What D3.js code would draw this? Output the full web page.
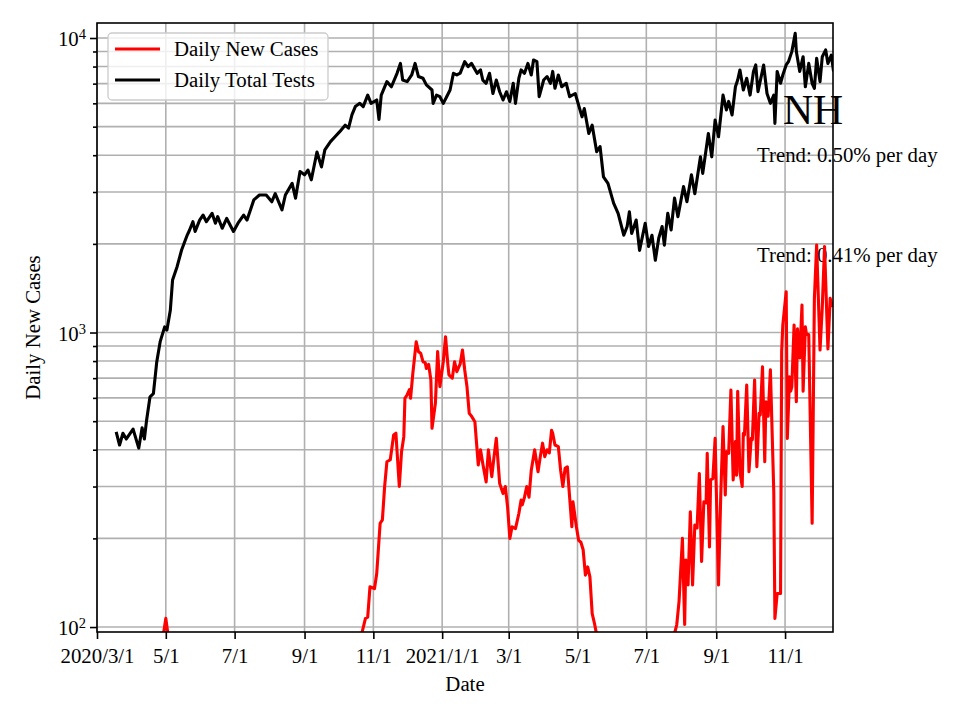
<!DOCTYPE html>
<html>
<head>
<meta charset="utf-8">
<script src="https://cdn.jsdelivr.net/npm/d3@7"></script>
<style>
  body { margin: 0; background: #fff; }
  svg { font-family: "Liberation Serif", "Times New Roman", serif; }
</style>
</head>
<body>
<div id="chart"></div>
<script>

// daily total tests (peaks and troughs)
var testDates = [
  "2020-03-18","2020-03-21","2020-03-24","2020-03-27","2020-04-02","2020-04-07","2020-04-10","2020-04-12",
  "2020-04-14","2020-04-17","2020-04-20","2020-04-23","2020-04-26","2020-04-30","2020-05-02","2020-05-05",
  "2020-05-07","2020-05-11","2020-05-15","2020-05-20","2020-05-22","2020-05-25","2020-05-27","2020-05-31",
  "2020-06-03","2020-06-06","2020-06-11","2020-06-14","2020-06-16","2020-06-20","2020-06-24","2020-06-30",
  "2020-07-04","2020-07-09","2020-07-12","2020-07-18","2020-07-23","2020-07-29","2020-08-03","2020-08-06",
  "2020-08-12","2020-08-15","2020-08-21","2020-08-24","2020-08-28","2020-09-01","2020-09-04","2020-09-07",
  "2020-09-12","2020-09-16","2020-09-19","2020-09-24","2020-09-28","2020-10-02","2020-10-07","2020-10-10",
  "2020-10-13","2020-10-16","2020-10-20","2020-10-23","2020-10-27","2020-10-30","2020-11-04","2020-11-06",
  "2020-11-08","2020-11-13","2020-11-17","2020-11-22","2020-11-25","2020-11-27","2020-12-01","2020-12-05",
  "2020-12-08","2020-12-11","2020-12-15","2020-12-18","2020-12-23","2020-12-24","2020-12-27","2020-12-30",
  "2021-01-02","2021-01-05","2021-01-08","2021-01-11","2021-01-14","2021-01-17","2021-01-21","2021-01-24",
  "2021-01-27","2021-02-01","2021-02-04","2021-02-06","2021-02-09","2021-02-12","2021-02-15","2021-02-18",
  "2021-02-21","2021-02-24","2021-02-27","2021-03-02","2021-03-05","2021-03-07","2021-03-10","2021-03-12",
  "2021-03-15","2021-03-18","2021-03-21","2021-03-23","2021-03-26","2021-03-28","2021-04-01","2021-04-04",
  "2021-04-07","2021-04-09","2021-04-11","2021-04-14","2021-04-17","2021-04-21","2021-04-24","2021-04-29",
  "2021-05-01","2021-05-05","2021-05-07","2021-05-11","2021-05-14","2021-05-18","2021-05-21","2021-05-24",
  "2021-05-28","2021-06-02","2021-06-06","2021-06-11","2021-06-14","2021-06-16","2021-06-18","2021-06-22",
  "2021-06-25","2021-06-30","2021-07-03","2021-07-06","2021-07-09","2021-07-12","2021-07-15","2021-07-17",
  "2021-07-20","2021-07-23","2021-07-26","2021-07-29","2021-08-03","2021-08-06","2021-08-10","2021-08-13",
  "2021-08-18","2021-08-20","2021-08-25","2021-08-28","2021-08-31","2021-09-03","2021-09-07","2021-09-10",
  "2021-09-12","2021-09-15","2021-09-18","2021-09-20","2021-09-22","2021-09-25","2021-09-28","2021-10-01",
  "2021-10-04","2021-10-06","2021-10-08","2021-10-13","2021-10-16","2021-10-19","2021-10-22","2021-10-23",
  "2021-10-25","2021-10-28","2021-10-30","2021-11-02","2021-11-04","2021-11-07","2021-11-10","2021-11-11",
  "2021-11-14","2021-11-17","2021-11-19","2021-11-22","2021-11-25","2021-11-27","2021-11-29","2021-12-02",
  "2021-12-04","2021-12-07","2021-12-09","2021-12-12","2021-12-14"
];
var testValues = [
  460,415,455,435,470,405,475,435,
  505,605,620,796,931,1045,1020,1190,
  1508,1673,1906,2143,2225,2378,2204,2408,
  2505,2378,2540,2350,2475,2260,2440,2204,
  2350,2505,2410,2820,2930,2930,2780,2960,
  2610,2930,3210,2860,3520,3430,3560,3300,
  4100,3650,4170,4450,4620,4800,5060,4940,
  5480,5850,6000,5850,6400,6000,6160,5290,
  6400,7110,6830,7590,8200,7200,7110,7490,
  8200,7400,7300,6930,6660,6000,6400,6320,
  6000,6320,6660,7590,7490,7600,8310,7990,
  8200,7590,7790,7200,7020,7590,6480,7200,
  6570,6160,6570,6090,7020,6000,7300,7790,
  7590,8200,7490,8420,8310,6320,7200,7400,
  7020,7700,6750,7490,6830,7020,6320,6480,
  6090,5400,5760,4740,5060,4110,4280,3380,
  3210,2750,2540,2140,2290,2570,2170,2410,
  1900,2350,1960,2140,1760,2090,2290,1980,
  2540,2230,2860,2475,3130,2780,3430,2960,
  3950,3470,4740,3950,5270,4620,6400,5700,
  6090,5480,6830,7200,7790,6660,7300,6400,
  7700,8100,6570,8100,6480,6000,6400,5130,
  7700,7020,7490,8100,8310,8990,10370,9000,
  7700,8640,6830,8200,7020,6750,8530,7110,
  8640,9110,8200,8750,7700
];

// daily new cases (values under 100 fall below the axis and are clipped)
var caseDates = [
  "2020-03-18","2020-03-25","2020-04-04","2020-04-15","2020-04-27","2020-04-29","2020-05-01","2020-05-03",
  "2020-05-05","2020-05-20","2020-06-05","2020-06-25","2020-07-15","2020-08-10","2020-09-01","2020-09-20",
  "2020-10-05","2020-10-15","2020-10-22","2020-10-25","2020-10-27","2020-10-29","2020-11-02","2020-11-04",
  "2020-11-07","2020-11-09","2020-11-11","2020-11-13","2020-11-16","2020-11-19","2020-11-21","2020-11-24",
  "2020-11-26","2020-11-28","2020-11-29","2020-12-01","2020-12-03","2020-12-04","2020-12-06","2020-12-09",
  "2020-12-11","2020-12-13","2020-12-15","2020-12-17","2020-12-18","2020-12-20","2020-12-22","2020-12-23",
  "2020-12-26","2020-12-28","2020-12-30","2021-01-02","2021-01-04","2021-01-06","2021-01-07","2021-01-10",
  "2021-01-12","2021-01-14","2021-01-17","2021-01-19","2021-01-21","2021-01-23","2021-01-25","2021-01-27",
  "2021-01-30","2021-02-02","2021-02-04","2021-02-06","2021-02-09","2021-02-11","2021-02-14","2021-02-16",
  "2021-02-18","2021-02-21","2021-02-24","2021-02-26","2021-02-28","2021-03-02","2021-03-04","2021-03-07",
  "2021-03-10","2021-03-12","2021-03-13","2021-03-15","2021-03-17","2021-03-19","2021-03-21","2021-03-24",
  "2021-03-27","2021-03-29","2021-03-31","2021-04-02","2021-04-04","2021-04-06","2021-04-08","2021-04-09",
  "2021-04-11","2021-04-14","2021-04-16","2021-04-18","2021-04-20","2021-04-22","2021-04-24","2021-04-26",
  "2021-04-27","2021-04-30","2021-05-02","2021-05-04","2021-05-06","2021-05-08","2021-05-10","2021-05-12",
  "2021-05-14","2021-05-16","2021-05-19","2021-05-25","2021-06-05","2021-06-20","2021-07-05","2021-07-15",
  "2021-07-22","2021-07-26","2021-07-28","2021-07-30","2021-08-02","2021-08-04","2021-08-05","2021-08-07",
  "2021-08-09","2021-08-11","2021-08-13","2021-08-15","2021-08-17","2021-08-19","2021-08-21","2021-08-23",
  "2021-08-24","2021-08-26","2021-08-27","2021-08-29","2021-08-31","2021-09-03","2021-09-05","2021-09-07",
  "2021-09-09","2021-09-10","2021-09-12","2021-09-14","2021-09-16","2021-09-18","2021-09-19","2021-09-20",
  "2021-09-22","2021-09-24","2021-09-25","2021-09-26","2021-09-28","2021-09-30","2021-10-02","2021-10-03",
  "2021-10-05","2021-10-07","2021-10-09","2021-10-10","2021-10-12","2021-10-14","2021-10-15","2021-10-17",
  "2021-10-19","2021-10-22","2021-10-23","2021-10-25","2021-10-28","2021-10-29","2021-10-30","2021-11-02",
  "2021-11-03","2021-11-05","2021-11-06","2021-11-07","2021-11-09","2021-11-11","2021-11-12","2021-11-14",
  "2021-11-16","2021-11-17","2021-11-19","2021-11-20","2021-11-22","2021-11-25","2021-11-27","2021-11-29",
  "2021-12-02","2021-12-04","2021-12-06","2021-12-09","2021-12-11","2021-12-13"
];
var caseValues = [
  8,25,55,75,85,95,107,94,
  70,60,35,20,25,20,20,40,
  60,75,96,107,108,137,135,152,
  225,231,300,364,370,449,455,300,
  394,443,598,615,640,598,727,930,
  861,850,796,790,755,780,690,473,
  575,861,655,796,968,783,718,700,
  796,736,783,872,746,655,532,520,
  498,355,400,359,311,400,324,379,
  437,307,284,300,256,200,219,216,
  243,270,260,276,300,276,341,400,
  337,379,421,379,400,390,466,455,
  415,410,341,300,346,350,276,219,
  266,219,197,194,183,150,160,148,
  111,103,90,70,50,30,25,50,
  80,95,102,122,200,102,169,139,
  246,139,222,217,332,167,266,264,
  389,187,316,319,437,139,281,479,
  281,394,389,638,316,426,328,632,
  337,300,455,449,663,337,437,433,
  690,350,532,525,765,364,582,520,
  747,288,107,130,130,861,1060,1376,
  437,708,632,655,1060,582,1030,820,
  1240,632,1045,985,985,225,1306,1982,
  872,1220,1960,880,1306,1220
];

var xTickDates = ["2020-03-01","2020-05-01","2020-07-01","2020-09-01","2020-11-01","2021-01-01",
                  "2021-03-01","2021-05-01","2021-07-01","2021-09-01","2021-11-01"];
var xTickLabels = ["2020/3/1","5/1","7/1","9/1","11/1","2021/1/1","3/1","5/1","7/1","9/1","11/1"];
var yMajorTicks = [100, 1000, 10000];
var yMajorExp = ["2", "3", "4"];
var yMinorTicks = [200, 300, 400, 500, 600, 700, 800, 900, 2000, 3000, 4000, 5000, 6000, 7000, 8000, 9000];

var seriesNames = ["Daily New Cases", "Daily Total Tests"];
var seriesColors = ["#ff0000", "#000000"];
var stateName = "NH";
var trendLabels = ["Trend: 0.50% per day", "Trend: 0.41% per day"];

function drawChart() {

var svg = d3.select("#chart").append("svg")
      .attr("width", 960)
      .attr("height", 720),
    margin = {top: 23, right: 127, bottom: 88, left: 97},
    width = 960 - margin.left - margin.right,
    height = 720 - margin.top - margin.bottom,
    g = svg.append("g").attr("transform", "translate(" + margin.left + "," + margin.top + ")");

var parse = d3.utcParse("%Y-%m-%d");
var fs = 20.8; // 10pt at 150 dpi

var x = d3.scaleUtc()
    .domain([parse("2020-03-01"), d3.utcHour.offset(parse("2021-12-13"), 12)])
    .range([0, width]);

var y = d3.scaleLog()
    .domain([96.2, 11245])
    .range([height, 0]);

var tests = testDates.map(function(d, i) { return {date: parse(d), value: testValues[i]}; });
var cases = caseDates.map(function(d, i) { return {date: parse(d), value: caseValues[i]}; });

svg.append("defs").append("clipPath")
    .attr("id", "plot-clip")
  .append("rect")
    .attr("width", width)
    .attr("height", height);

// grid, minor and major
var grid = g.append("g").attr("class", "grid")
    .attr("stroke", "#b0b0b0")
    .attr("stroke-width", 1.6);

grid.selectAll(".hminor")
    .data(yMinorTicks.concat(yMajorTicks))
  .enter().append("line")
    .attr("x1", 0)
    .attr("x2", width)
    .attr("y1", function(d) { return y(d); })
    .attr("y2", function(d) { return y(d); });

grid.selectAll(".vline")
    .data(xTickDates)
  .enter().append("line")
    .attr("y1", 0)
    .attr("y2", height)
    .attr("x1", function(d) { return x(parse(d)); })
    .attr("x2", function(d) { return x(parse(d)); });

// annotations
g.append("text")
    .attr("x", 783 - margin.left)
    .attr("y", 124 - margin.top)
    .style("font-size", "41.7px")
    .text(stateName);

g.selectAll(".trend")
    .data(trendLabels)
  .enter().append("text")
    .attr("class", "trend")
    .attr("x", 757 - margin.left)
    .attr("y", function(d, i) { return 162 - margin.top + i * 100; })
    .style("font-size", fs + "px")
    .text(function(d) { return d; });

var line = d3.line()
    .x(function(d) { return x(d.date); })
    .y(function(d) { return y(d.value); });

var plot = g.append("g").attr("clip-path", "url(#plot-clip)");

plot.append("path")
    .datum(cases)
    .attr("fill", "none")
    .attr("stroke", seriesColors[0])
    .attr("stroke-width", 3.1)
    .attr("stroke-linejoin", "round")
    .attr("d", line);

plot.append("path")
    .datum(tests)
    .attr("fill", "none")
    .attr("stroke", seriesColors[1])
    .attr("stroke-width", 3.1)
    .attr("stroke-linejoin", "round")
    .attr("d", line);

// axes
var xAxis = g.append("g")
    .attr("transform", "translate(0," + height + ")")
    .call(d3.axisBottom(x)
      .tickValues(xTickDates.map(parse))
      .tickFormat(function(d, i) { return xTickLabels[i]; })
      .tickSizeInner(7)
      .tickSizeOuter(0)
      .tickPadding(9));

var yMinor = g.append("g")
    .call(d3.axisLeft(y).tickValues(yMinorTicks).tickFormat("").tickSizeInner(4).tickSizeOuter(0));

var yAxis = g.append("g")
    .call(d3.axisLeft(y).tickValues(yMajorTicks).tickSizeInner(7).tickSizeOuter(0).tickPadding(4));

yAxis.selectAll(".tick text")
    .attr("dy", "0.38em")
    .text("")
    .each(function(d, i) {
      var t = d3.select(this);
      t.append("tspan").text("10");
      t.append("tspan")
        .attr("dy", "-0.5em")
        .style("font-size", "14.5px")
        .text(yMajorExp[i]);
    });

[xAxis, yMinor, yAxis].forEach(function(a) {
  a.select(".domain").remove();
  a.selectAll("line").attr("stroke", "#000").attr("stroke-width", 1.6);
  a.selectAll("text")
    .attr("fill", "#000")
    .style("font-family", "'Liberation Serif', 'Times New Roman', serif")
    .style("font-size", fs + "px");
});
yAxis.selectAll(".tick text tspan:nth-child(2)").style("font-size", "14.5px");

// spines
g.append("rect")
    .attr("width", width)
    .attr("height", height)
    .attr("fill", "none")
    .attr("stroke", "#000")
    .attr("stroke-width", 1.6);

g.append("text")
    .attr("x", width / 2)
    .attr("y", 691 - margin.top)
    .attr("text-anchor", "middle")
    .style("font-size", fs + "px")
    .text("Date");

g.append("text")
    .attr("transform", "translate(" + (40 - margin.left) + "," + (height / 2) + ") rotate(-90)")
    .attr("text-anchor", "middle")
    .style("font-size", fs + "px")
    .text(seriesNames[0]);

// legend
var legend = svg.append("g")
    .attr("transform", "translate(108,33)");

legend.append("rect")
    .attr("width", 220)
    .attr("height", 67)
    .attr("rx", 4)
    .attr("fill", "#fff")
    .attr("fill-opacity", 0.8)
    .attr("stroke", "#cccccc")
    .attr("stroke-width", 1.3);

var item = legend.selectAll(".item")
    .data(seriesNames)
  .enter().append("g")
    .attr("class", "item")
    .attr("transform", function(d, i) { return "translate(0," + (16 + i * 31) + ")"; });

item.append("line")
    .attr("x1", 7)
    .attr("x2", 52)
    .attr("stroke", function(d, i) { return seriesColors[i]; })
    .attr("stroke-width", 3.1);

item.append("text")
    .attr("x", 66)
    .attr("y", 7)
    .style("font-size", fs + "px")
    .text(function(d) { return d; });

}

drawChart();
</script>
</body>
</html>
